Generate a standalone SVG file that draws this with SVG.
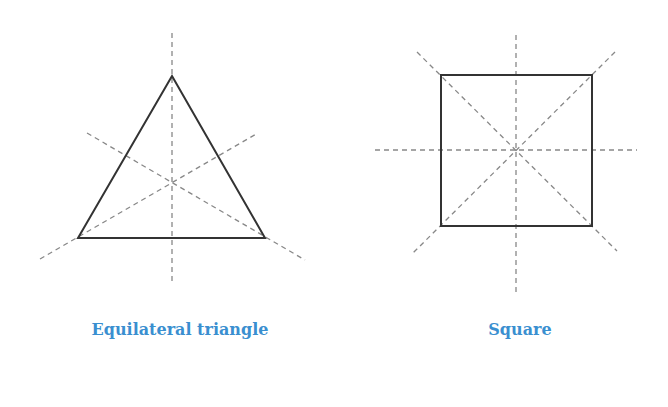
<svg xmlns="http://www.w3.org/2000/svg" width="668" height="407" viewBox="0 0 668 407">
<style>
.shape{fill:none;stroke:#333;stroke-width:2;stroke-linejoin:miter}
.axis{stroke:#888;stroke-width:1.3;stroke-dasharray:5 4;fill:none}
.lbl{font-family:"DejaVu Serif",serif;font-weight:bold;font-size:16px;fill:#3a8fd0;text-anchor:middle}
</style>
<rect width="668" height="407" fill="#fff"/>
<g id="connectors">
<line class="axis" x1="172" y1="33" x2="172" y2="284"/>
<line class="axis" x1="40" y1="259" x2="258" y2="133"/>
<line class="axis" x1="87" y1="133" x2="305" y2="260"/>
<line class="axis" x1="516" y1="35" x2="516" y2="292"/>
<line class="axis" x1="375" y1="150" x2="637" y2="150"/>
<line class="axis" x1="417" y1="52" x2="617" y2="251"/>
<line class="axis" x1="615" y1="52" x2="413" y2="253"/>
</g>
<g id="triangle">
<polygon class="shape" points="172,76 78,238 265,238"/>
<text class="lbl" x="180" y="335">Equilateral triangle</text>
</g>
<g id="square">
<rect class="shape" x="441" y="75" width="151" height="151"/>
<text class="lbl" x="520" y="335">Square</text>
</g>
</svg>
